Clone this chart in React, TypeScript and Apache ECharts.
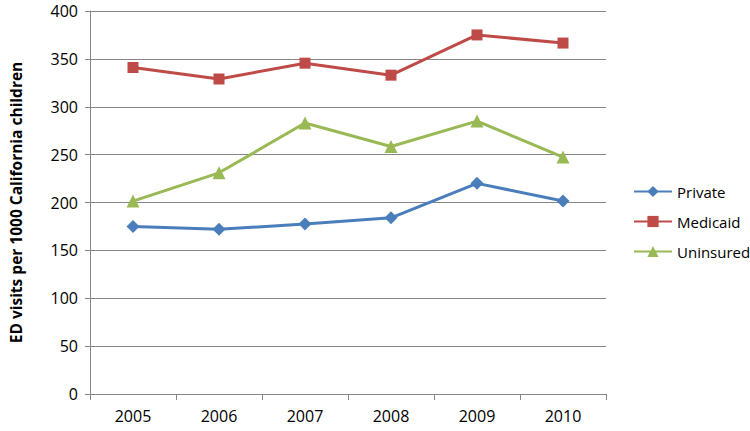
import React, { useEffect, useRef } from "react";
import * as echarts from "echarts";

const years = ["2005", "2006", "2007", "2008", "2009", "2010"];
const privateVals = [175, 172, 177.5, 184, 220, 201.5];
const medicaidVals = [341, 329, 345.5, 333, 375, 366.5];
const uninsuredVals = [201.5, 231, 283, 258.5, 285, 247.5];
const yTicks = [0, 50, 100, 150, 200, 250, 300, 350, 400];

const FONT = "'Open Sans', sans-serif";

export default function App() {
  const ref = useRef<HTMLDivElement>(null);
  useEffect(() => {
    if (!ref.current) return;
    const chart = echarts.init(ref.current, null, { renderer: "svg" });
    const mk = (name: string, data: number[], color: string, symbol: string, size: number) => ({
      name,
      type: "line",
      data,
      symbol,
      symbolSize: size,
      lineStyle: { color, width: 3 },
      itemStyle: { color },
    });
    chart.setOption({
      animation: false,
      textStyle: { fontFamily: FONT },
      grid: { left: 88, top: 11, right: 144, bottom: 37, containLabel: false },
      legend: {
        orient: "vertical",
        left: 628,
        top: 179,
        itemWidth: 38,
        itemHeight: 14,
        itemGap: 15,
        textStyle: { fontSize: 15, color: "#000", fontFamily: FONT },
        data: ["Private", "Medicaid", "Uninsured"],
      },
      xAxis: {
        type: "category",
        data: years,
        boundaryGap: true,
        axisLine: { lineStyle: { color: "#868686", width: 1 } },
        axisTick: { show: true, length: 6, lineStyle: { color: "#868686" } },
        axisLabel: { fontSize: 16, color: "#000", margin: 14, fontFamily: FONT },
      },
      yAxis: {
        type: "value",
        min: yTicks[0],
        max: yTicks[yTicks.length - 1],
        interval: 50,
        name: "ED visits per 1000 California children",
        nameLocation: "middle",
        nameGap: 66,
        nameTextStyle: { fontSize: 15.5, fontWeight: "bold", color: "#000", fontFamily: FONT },
        axisLine: { show: true, lineStyle: { color: "#868686", width: 1 } },
        axisTick: { show: true, length: 5, lineStyle: { color: "#868686" } },
        axisLabel: { fontSize: 16, color: "#000", margin: 12, fontFamily: FONT },
        splitLine: { show: true, lineStyle: { color: "#868686", width: 1 } },
      },
      series: [
        mk("Private", privateVals, "#4A7EBB", "diamond", 13),
        mk("Medicaid", medicaidVals, "#BE4B48", "rect", 11),
        mk("Uninsured", uninsuredVals, "#98B954", "triangle", 13),
      ],
    });
    return () => chart.dispose();
  }, []);
  return <div ref={ref} style={{ width: 750, height: 431, position: "absolute", left: 0, top: 0 }} />;
}
